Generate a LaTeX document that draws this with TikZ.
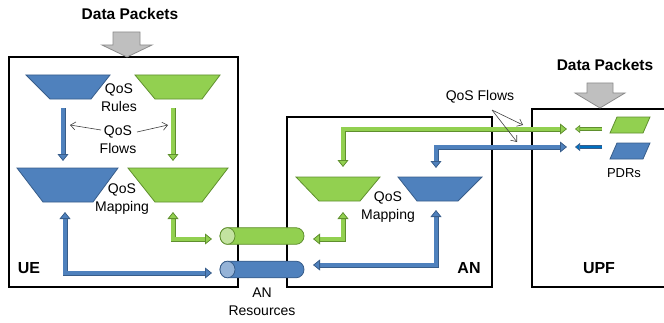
\documentclass[tikz,border=0pt]{standalone}
\usepackage{fontspec}
\setmainfont{Liberation Sans}
\usetikzlibrary{arrows.meta}
\definecolor{bfill}{HTML}{4F81BD}
\definecolor{bdark}{HTML}{385D8A}
\definecolor{blight}{HTML}{95B3D7}
\definecolor{gfill}{HTML}{92D050}
\definecolor{gdark}{HTML}{5F8F2E}
\definecolor{glight}{HTML}{C3E3A0}
\definecolor{dblue}{HTML}{0070C0}
\definecolor{grayA}{HTML}{BFBFBF}
\definecolor{grayB}{HTML}{8C8C8C}
\tikzset{
 box/.style={draw=black, line width=2.4pt},
 btrap/.style={fill=bfill, draw=bdark, line width=0.8pt},
 gtrap/.style={fill=gfill, draw=gdark, line width=0.8pt},
 gtip/.tip={Triangle[length=7pt,width=11pt,fill=gfill,line width=0.8pt]},
 btip/.tip={Triangle[length=7pt,width=11pt,fill=bfill,line width=0.8pt]},
 dtip/.tip={Triangle[length=5pt,width=8pt,fill=dblue,line width=0.6pt]},
 sgtip/.tip={Triangle[length=5pt,width=8pt,fill=gfill,line width=0.6pt]},
 gpipe/.style={draw=gdark, double=gfill, double distance=3.4pt, line width=0.8pt},
 bpipe/.style={draw=bdark, double=bfill, double distance=3.4pt, line width=0.8pt},
 gsmall/.style={draw=gdark, double=gfill, double distance=2.4pt, line width=0.6pt},
 dsmall/.style={draw=bdark, double=dblue, double distance=2.4pt, line width=0.6pt},
 lbl/.style={font=\fontsize{14}{18}\selectfont, align=center, inner sep=0pt},
 tag/.style={font=\fontsize{16}{19}\selectfont\bfseries, inner sep=0pt},
 callout/.style={draw=black!75, line width=0.6pt, -{Straight Barb[length=5pt,width=8pt]}},
 packet/.style={fill=grayA, draw=grayB, line width=0.8pt},
 gcyl/.style={fill=gfill, draw=gdark, line width=0.8pt},
 bcyl/.style={fill=bfill, draw=bdark, line width=0.8pt},
}
\begin{document}
\begin{tikzpicture}[x=1pt,y=1pt]
\useasboundingbox (0,0) rectangle (664,322);
% boxes
\draw[box] (9,35) rectangle (238,265);
\draw[box] (287,35) rectangle (492,205);
\draw[box] (532,35) rectangle (670,213);
% data packets
\node[tag, font=\fontsize{15.5}{19}\selectfont\bfseries] (dp1) at (130,308) {Data Packets};
\draw[packet] (113,290) -- (140,290) -- (140,277) -- (152,277) -- (127,265) -- (102,277) -- (113,277) -- cycle;
\node[tag, font=\fontsize{15.5}{19}\selectfont\bfseries] (dp2) at (605,257) {Data Packets};
\draw[packet] (587,239) -- (613,239) -- (613,229) -- (625,229) -- (600,214) -- (575,229) -- (587,229) -- cycle;
% UE trapezoids
\draw[btrap] (26,247) -- (110,247) -- (91,223) -- (50,223) -- cycle;
\draw[gtrap] (135,247) -- (220,247) -- (202,223) -- (155,223) -- cycle;
\draw[btrap] (17,154) -- (118,154) -- (93,120) -- (43,120) -- cycle;
\draw[gtrap] (128,154) -- (228,154) -- (202,120) -- (155,120) -- cycle;
\node[lbl] (rules) at (119,224) {QoS\\Rules};
\node[lbl] (flows) at (118,182) {QoS\\Flows};
\node[lbl] (map1) at (122,122.5) {QoS\\Mapping};
% AN trapezoids
\draw[gtrap] (296,145) -- (380,145) -- (360,121) -- (319,121) -- cycle;
\draw[btrap] (398,145) -- (482,145) -- (458,121) -- (417,121) -- cycle;
\node[lbl] (map2) at (388,114.5) {QoS\\Mapping};
% coordinates
\coordinate (ub1) at (63,214); \coordinate (ub2) at (63,161);
\coordinate (ug1) at (173,214); \coordinate (ug2) at (173,161);
\coordinate (ubm) at (65,110); \coordinate (ubc) at (65,49); \coordinate (ube) at (212,49);
\coordinate (ugm) at (173,110); \coordinate (ugc) at (173,83); \coordinate (uge) at (212,83);
\coordinate (agm) at (343,110); \coordinate (agc) at (343,83); \coordinate (age) at (313,83);
\coordinate (abm) at (436,112); \coordinate (abc) at (436,57); \coordinate (abe) at (313,57);
\coordinate (gt1) at (343,155); \coordinate (gt2) at (343,193); \coordinate (gt3) at (567,193);
\coordinate (bt1) at (436,154); \coordinate (bt2) at (436,175); \coordinate (bt3) at (567,175);
% arrows
\draw[bpipe, -{btip}] (ub1) -- (ub2);
\draw[gpipe, -{gtip}] (ug1) -- (ug2);
\draw[bpipe, {btip}-{btip}] (ubm) -- (ubc) -- (ube);
\draw[gpipe, {gtip}-{gtip}] (ugm) -- (ugc) -- (uge);
\draw[gpipe, {gtip}-{gtip}] (agm) -- (agc) -- (age);
\draw[bpipe, {btip}-{btip}] (abm) -- (abc) -- (abe);
\draw[gpipe, {gtip}-{gtip}] (gt1) -- (gt2) -- (gt3);
\draw[bpipe, {btip}-{btip}] (bt1) -- (bt2) -- (bt3);
% cylinders
\draw[gcyl] (227.5,94.3) -- (296,94.3) arc[start angle=90, end angle=-90, x radius=8, y radius=8.3] -- (227.5,77.7) arc[start angle=270, end angle=90, x radius=7.5, y radius=8.3] -- cycle;
\draw[gcyl, fill=glight] (227.5,86) ellipse[x radius=7.5, y radius=8.3];
\draw[bcyl] (227.5,60.8) -- (296,60.8) arc[start angle=90, end angle=-90, x radius=8, y radius=8.3] -- (227.5,44.2) arc[start angle=270, end angle=90, x radius=7.5, y radius=8.3] -- cycle;
\draw[bcyl, fill=blight] (227.5,52.5) ellipse[x radius=7.5, y radius=8.3];
\node[lbl] (res) at (262,20.5) {AN\\Resources};
% UPF
\coordinate (sg1) at (602,193); \coordinate (sg2) at (575,193);
\coordinate (sb1) at (602,175); \coordinate (sb2) at (575,175);
\draw[gsmall, -{sgtip}] (sg1) -- (sg2);
\draw[dsmall, -{dtip}] (sb1) -- (sb2);
\draw[gtrap] (610,189) -- (643,189) -- (650,205) -- (617,205) -- cycle;
\draw[btrap] (610,163) -- (643,163) -- (650,179) -- (617,179) -- cycle;
\node[lbl, font=\fontsize{13}{16}\selectfont] (pdrs) at (624,149) {PDRs};
% callouts
\node[lbl] (flows2) at (480,225) {QoS Flows};
\coordinate (fl1) at (101,192); \coordinate (fl2) at (70,197);
\coordinate (fr1) at (137,190); \coordinate (fr2) at (168,197);
\draw[callout] (fl1) -- (fl2);
\draw[callout] (fr1) -- (fr2);
\coordinate (q0) at (492,212); \coordinate (q1) at (523,197); \coordinate (q2) at (517,180);
\draw[callout] (q0) -- (q1);
\draw[callout] (q0) -- (q2);
% tags
\node[tag] (ue) at (29,54) {UE};
\node[tag] (an) at (469,54) {AN};
\node[tag] (upf) at (599,54) {UPF};
\end{tikzpicture}
\end{document}
